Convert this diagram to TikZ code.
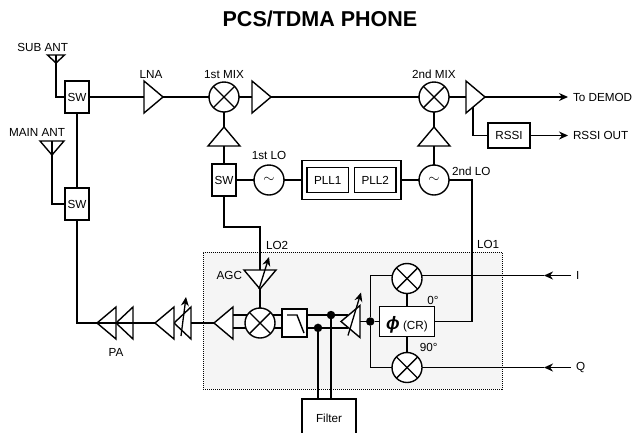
\documentclass[tikz,border=0pt]{standalone}
\usepackage{fontspec}
\setmainfont{Liberation Sans}
\usetikzlibrary{shapes.geometric,arrows.meta,positioning,fit,calc}

\begin{document}
\begin{tikzpicture}[
    x=1pt, y=-1pt,
    line width=1.4pt,
    font=\fontsize{11.7}{13}\selectfont,
    every node/.append style={outer sep=0pt},
    blk/.style={draw, fill=white, inner sep=0pt, align=center},
    swbox/.style={blk, minimum width=24pt, minimum height=32pt},
    pllbox/.style={blk, minimum width=41.5pt, minimum height=25pt},
    amp/.style={isosceles triangle, isosceles triangle stretches, draw, fill=white, inner sep=0pt, minimum width=32pt, minimum height=19pt, shape border rotate=#1},
    ant/.style={isosceles triangle, isosceles triangle stretches, draw, inner sep=0pt, shape border rotate=270},
    mixer/.style={circle, draw, fill=white, inner sep=0pt, minimum size=30pt, path picture={
        \draw (path picture bounding box.north west) -- (path picture bounding box.south east);
        \draw (path picture bounding box.north east) -- (path picture bounding box.south west);}},
    osc/.style={circle, draw, fill=white, inner sep=0pt, minimum size=30pt},
    dotnode/.style={circle, fill=black, inner sep=0pt, minimum size=8.5pt},
    lab/.style={inner sep=0pt},
    port/.style={inner xsep=5pt, inner ysep=0pt},
    sig/.style={-{Stealth[length=9pt,width=8pt]}},
    varrow/.style={-{Stealth[length=9pt,width=8pt]}, line width=1.3pt}
]
\useasboundingbox (0,0) rectangle (634,432);

% shaded modulator area
\node[draw, densely dotted, line width=1pt, fill=black!4, minimum width=299pt, minimum height=137pt] (modarea) at (352.5,320.5) {};

% receive chain
\node[swbox] (swsub) at (77,97) {SW};
\node[amp=0, right=55pt of swsub] (lna) {};
\node[mixer, right=46pt of lna] (mixa) {};
\node[amp=0, right=13pt of mixa] (ampa) {};
\node[mixer, right=148pt of ampa] (mixb) {};
\node[amp=0, right=17pt of mixb] (ampout) {};
\node[port, right=83pt of ampout] (demod) {To DEMOD};
\node[blk, minimum width=42pt, minimum height=25pt, below right=26pt and 3pt of ampout.east] (rssi) {RSSI};
\node[port, right=38pt of rssi] (rssiout) {RSSI OUT};

% local oscillators
\node[amp=90, below=15pt of mixa] (ampla) {};
\node[swbox, below=18pt of ampla] (swlo) {SW};
\node[osc, right=18pt of swlo] (loa) {\fontsize{15}{15}\selectfont$\sim$};
\node[pllbox, right=23pt of loa] (plla) {PLL1};
\node[pllbox, right=6pt of plla] (pllb) {PLL2};
\node[draw, inner xsep=5pt, inner ysep=7pt, fit=(plla)(pllb)] (pll) {};
\node[amp=90, below=15pt of mixb] (amplb) {};
\node[osc, below=19pt of amplb] (lob) {\fontsize{15}{15}\selectfont$\sim$};
\coordinate[right=23pt of lob] (lobend);

% antennas
\node[ant, minimum width=17pt, minimum height=8pt, anchor=lower side] (subant) at (56,55) {};
\node[ant, minimum width=24pt, minimum height=14pt, anchor=lower side] (mainant) at (52,141) {};
\node[swbox, below=75pt of swsub] (swmain) {SW};

% transmit chain
\node[mixer] (mixmod) at (260,323) {};
\node[blk, minimum width=25pt, minimum height=28pt, right=7pt of mixmod] (lpf) {};
\node[amp=180, left=12pt of mixmod] (ampd) {};
\node[amp=180, minimum height=17pt, left=23pt of ampd] (pavb) {};
\node[amp=180, left=0pt of pavb] (pava) {};
\node[amp=180, minimum height=17pt, left=22pt of pava] (pab) {};
\node[amp=180, left=0pt of pab] (paa) {};
\node[amp=270, above=19pt of mixmod] (agc) {};
\coordinate[above=43pt of agc.lower side] (agcbend);
\node[amp=180, right=34pt of lpf, yshift=1.5pt] (vga) {};
\node[dotnode, right=6pt of vga] (dotc) {};
\node[blk, minimum width=55pt, minimum height=30pt, text height=18pt, text depth=2pt, right=5pt of dotc] (cr) {\textbf{\textit{\fontsize{18}{18}\selectfont ϕ}} (CR)};
\node[mixer, above=13pt of cr] (mixi) {};
\node[mixer, below=16pt of cr] (mixq) {};
\node[port, right=149pt of mixi, yshift=3pt] (iport) {I};
\node[port, right=149pt of mixq] (qport) {Q};
\coordinate (itip) at ($(iport.west)+(-27,0)$);
\coordinate (qtip) at ($(qport.west)+(-27,0)$);
\node[blk, minimum width=54pt, minimum height=38pt] (filter) at (329,418) {Filter};
\node[dotnode] (dota) at ($(lpf.east |- mixmod.32)+(24,0)$) {};
\node[dotnode] (dotb) at ($(lpf.east |- mixmod.-19)+(11,0)$) {};
\coordinate (vgaslant) at ($(vga.apex)+(7,0)$);

% labels
\node[font=\fontsize{21.5}{24}\selectfont\bfseries, lab] (title) at (320,19) {PCS/TDMA PHONE};
\node[lab, above left=3pt and -12pt of subant.lower side] (subantlab) {SUB ANT};
\node[lab, above left=5pt and -13pt of mainant.lower side] (mainantlab) {MAIN ANT};
\node[lab, above=19pt of lna.lower side, xshift=7pt] (lnalab) {LNA};
\node[lab, above=3pt of mixa] (mixalab) {1st MIX};
\node[lab, above=3pt of mixb] (mixblab) {2nd MIX};
\node[lab, above=5pt of loa] (loalab) {1st LO};
\node[lab, above right=4pt and 3pt of lob.east] (loblab) {2nd LO};
\node[lab, below right=14pt and 6pt of agcbend] (lotwolab) {LO2};
\node[lab, below right=60pt and 5pt of lobend] (loonelab) {LO1};
\node[lab, left=18pt of agc.center, yshift=2pt] (agclab) {AGC};
\node[lab, below=25pt of paa.lower side] (palab) {PA};
\node[lab, above left=2pt and -4pt of cr.north east] (zerolab) {0°};
\node[lab, below left=7pt and -3pt of cr.south east] (ninetylab) {90°};

% arrows (receive)
\draw (subant.lower side) |- (swsub.west);
\draw (mainant.lower side) |- (swmain.west);
\draw (swsub) -- (swmain);
\draw (swsub) -- (lna);
\draw (lna.apex) -- (mixa);
\draw (mixa) -- (ampa);
\draw (ampa.apex) -- (mixb);
\draw (mixb) -- (ampout);
\draw[sig] (ampout.apex) -- (demod);
\draw ($(ampout.lower side)+(7,10)$) |- (rssi.west);
\draw[sig] (rssi) -- (rssiout);

% arrows (oscillators)
\draw (mixa) -- (ampla.apex);
\draw (ampla.lower side) -- (swlo);
\draw (swlo) -- (loa);
\draw (loa) -- (pll);
\draw (pll) -- (lob);
\draw (lob) -- (amplb.lower side);
\draw (amplb.apex) -- (mixb);
\draw (lob.east) -- (lobend) |- (cr.east);
\draw (swlo.south) |- (agcbend) -- (agc.lower side);

% arrows (transmit)
\draw (agc.apex) -- (mixmod);
\draw (ampd.lower side |- mixmod.148) -- (mixmod.148);
\draw (ampd.lower side |- mixmod.199) -- (mixmod.199);
\draw (mixmod.32) -- (lpf.west |- mixmod.32);
\draw (mixmod.-19) -- (lpf.west |- mixmod.-19);
\draw (lpf.east |- mixmod.32) -- (vgaslant |- mixmod.32);
\draw (lpf.east |- mixmod.-19) -- (vgaslant |- mixmod.-19);
\draw (dota) -- (dota |- filter.north);
\draw (dotb) -- (dotb |- filter.north);
\draw (vga.lower side) -- (dotc);
\draw (ampd.apex) -- (pavb.lower side);
\draw (pava.apex) -- (paa.lower side);
\draw (pab.apex) -| (swmain.south);
\draw (dotc) -- (cr);
\draw (mixi) -- (cr);
\draw (mixq) -- (cr);
\draw (mixi.west |- iport) -| (dotc);
\draw (mixq.west) -| (dotc);
\draw[sig] (iport) -- (itip);
\draw (itip) -- (mixi.east |- iport);
\draw[sig] (qport) -- (qtip);
\draw (qtip) -- (mixq.east);

% filter curve and gain arrows
\draw ($(lpf)+(-7.5,-8)$) -- ($(lpf)+(2.5,-8)$) -- ($(lpf)+(9.5,10)$);
\draw[varrow] ($(agc.apex)+(-1,0)$) -- ($(agc.apex)+(9,-32)$);
\draw[varrow] ($(vga.apex)+(7,14)$) -- ($(vga.apex)+(20,-29)$);
\draw[varrow] ($(pavb.apex)+(7,13)$) -- ($(pavb.apex)+(12,-26)$);

\end{tikzpicture}
\end{document}
